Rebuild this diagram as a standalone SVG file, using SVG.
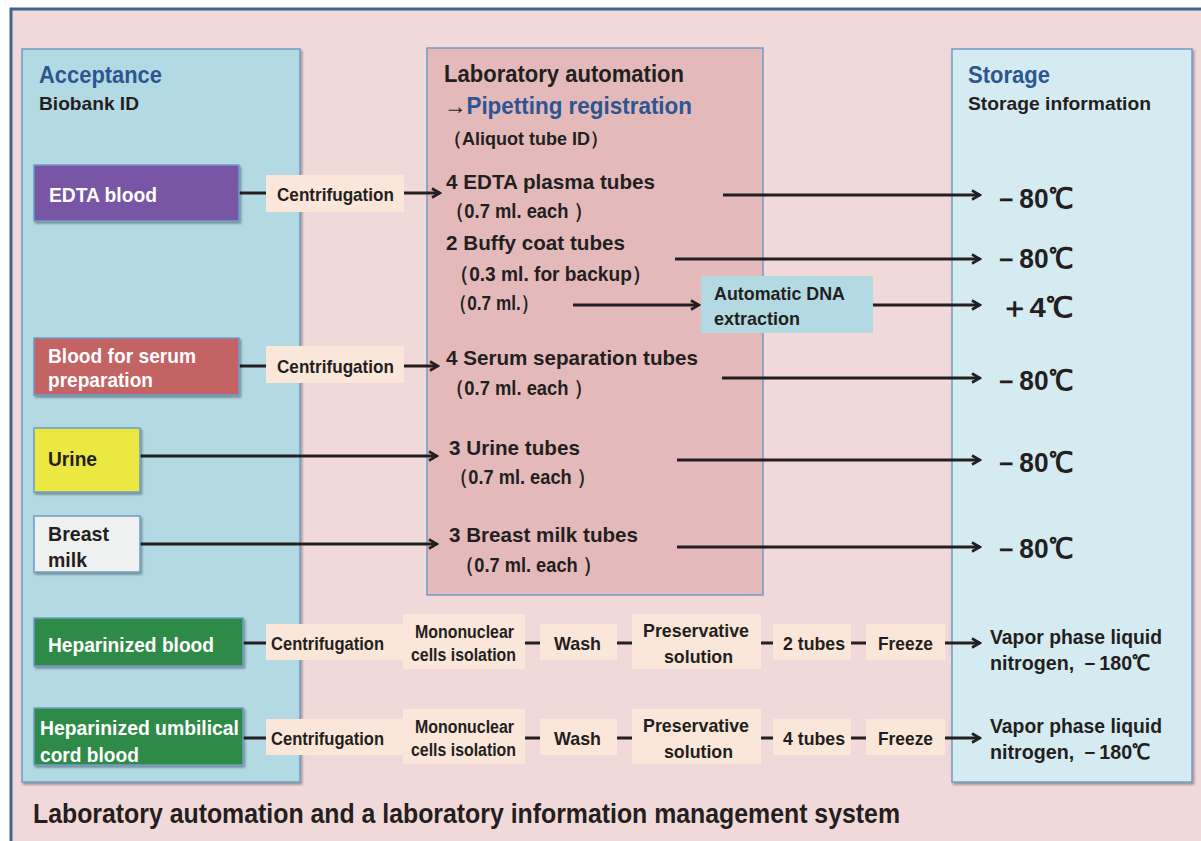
<svg xmlns="http://www.w3.org/2000/svg" width="1201" height="841" viewBox="0 0 1201 841">
<defs>
<marker id="ah" viewBox="0 0 12 12" refX="10" refY="6" markerWidth="12" markerHeight="12" markerUnits="userSpaceOnUse" orient="auto">
<path d="M2,1.5 L10,6 L2,10.5" fill="none" stroke="#231f20" stroke-width="2.6"/>
</marker>
<filter id="sh" x="-10%" y="-10%" width="120%" height="130%">
<feDropShadow dx="1.5" dy="2" stdDeviation="1.2" flood-color="#000" flood-opacity="0.35"/>
</filter>
<style>
text{font-family:"Liberation Sans",Arial,sans-serif;font-weight:bold;fill:#231f20}
.t{font-size:21px}
.s{font-size:19px}
.w{fill:#fff}
.h{font-size:23px;fill:#2c5592}
.big{font-size:28px}
.step{fill:#fbe6da}
.ln{stroke:#231f20;stroke-width:3;fill:none}
.ar{stroke:#231f20;stroke-width:3;fill:none;marker-end:url(#ah)}
</style>
</defs>
<rect width="1201" height="841" fill="#fff"/>
<rect x="11" y="9" width="1200" height="850" fill="#f1d9d9" stroke="#3c6591" stroke-width="3"/>

<g id="acceptance">
<rect x="22" y="49" width="278" height="733" fill="#b3dae3" stroke="#6d9cc8" stroke-width="1.5" filter="url(#sh)"/>
<text x="39" y="83" class="h" textLength="123" lengthAdjust="spacingAndGlyphs">Acceptance</text>
<text x="39" y="110" class="s" textLength="100" lengthAdjust="spacingAndGlyphs">Biobank ID</text>
</g>
<g id="automation">
<rect x="427" y="48" width="336" height="547" fill="#e3b9ba" stroke="#6d9cc8" stroke-width="1.5"/>
<text x="444" y="82" style="font-size:24px" textLength="240" lengthAdjust="spacingAndGlyphs">Laboratory automation</text>
<text x="444" y="114" style="font-size:24px" textLength="248" lengthAdjust="spacingAndGlyphs"><tspan>→</tspan><tspan style="fill:#2c5592">Pipetting registration</tspan></text>
<text x="444" y="145" class="s" textLength="164" lengthAdjust="spacingAndGlyphs">（Aliquot tube ID）</text>
<text x="446" y="189" class="t" textLength="209" lengthAdjust="spacingAndGlyphs">4 EDTA plasma tubes</text>
<text x="446" y="218" class="t" textLength="146" lengthAdjust="spacingAndGlyphs">（0.7 ml. each ）</text>
<text x="446" y="250" class="t" textLength="179" lengthAdjust="spacingAndGlyphs">2 Buffy coat tubes</text>
<text x="450" y="281" class="t" textLength="201" lengthAdjust="spacingAndGlyphs">（0.3 ml. for backup）</text>
<text x="450" y="310" class="t" textLength="88" lengthAdjust="spacingAndGlyphs">（0.7 ml.）</text>
<text x="446" y="365" class="t" textLength="252" lengthAdjust="spacingAndGlyphs">4 Serum separation tubes</text>
<text x="446" y="395" class="t" textLength="146" lengthAdjust="spacingAndGlyphs">（0.7 ml. each ）</text>
<text x="449" y="455" class="t" textLength="131" lengthAdjust="spacingAndGlyphs">3 Urine tubes</text>
<text x="450" y="484" class="t" textLength="145" lengthAdjust="spacingAndGlyphs">（0.7 ml. each ）</text>
<text x="449" y="542" class="t" textLength="189" lengthAdjust="spacingAndGlyphs">3 Breast milk tubes</text>
<text x="456" y="572" class="t" textLength="145" lengthAdjust="spacingAndGlyphs">（0.7 ml. each ）</text>
</g>
<g id="storage">
<rect x="952" y="49" width="240" height="733" fill="#d5ebf2" stroke="#6d9cc8" stroke-width="1.5" filter="url(#sh)"/>
<text x="968" y="83" class="h" textLength="82" lengthAdjust="spacingAndGlyphs">Storage</text>
<text x="968" y="110" class="s" textLength="183" lengthAdjust="spacingAndGlyphs">Storage information</text>
<text x="993" y="208" class="big" textLength="80" lengthAdjust="spacingAndGlyphs">－80℃</text>
<text x="993" y="268" class="big" textLength="80" lengthAdjust="spacingAndGlyphs">－80℃</text>
<text x="1000" y="317" class="big" textLength="73" lengthAdjust="spacingAndGlyphs">＋4℃</text>
<text x="993" y="390" class="big" textLength="80" lengthAdjust="spacingAndGlyphs">－80℃</text>
<text x="993" y="472" class="big" textLength="80" lengthAdjust="spacingAndGlyphs">－80℃</text>
<text x="993" y="558" class="big" textLength="80" lengthAdjust="spacingAndGlyphs">－80℃</text>
<text x="990" y="644" class="t" textLength="172" lengthAdjust="spacingAndGlyphs">Vapor phase liquid</text>
<text x="990" y="670" class="t" textLength="160" lengthAdjust="spacingAndGlyphs">nitrogen, －180℃</text>
<text x="990" y="733" class="t" textLength="172" lengthAdjust="spacingAndGlyphs">Vapor phase liquid</text>
<text x="990" y="759" class="t" textLength="160" lengthAdjust="spacingAndGlyphs">nitrogen, －180℃</text>
</g>

<g id="connectors">
<line x1="239" y1="193" x2="266" y2="193" class="ln"/>
<line x1="404" y1="193" x2="440" y2="193" class="ar"/>
<line x1="723" y1="195" x2="980" y2="195" class="ar"/>
<line x1="675" y1="259" x2="980" y2="259" class="ar"/>
<line x1="573" y1="305" x2="699" y2="305" class="ar"/>
<line x1="873" y1="305" x2="980" y2="305" class="ar"/>
<line x1="239" y1="366" x2="266" y2="366" class="ln"/>
<line x1="404" y1="366" x2="438" y2="366" class="ar"/>
<line x1="722" y1="378" x2="980" y2="378" class="ar"/>
<line x1="140" y1="456" x2="437" y2="456" class="ar"/>
<line x1="677" y1="460" x2="980" y2="460" class="ar"/>
<line x1="140" y1="544" x2="437" y2="544" class="ar"/>
<line x1="677" y1="547" x2="980" y2="547" class="ar"/>
<line x1="243" y1="643" x2="866" y2="643" class="ln"/>
<line x1="945" y1="643" x2="980" y2="643" class="ar"/>
<line x1="243" y1="738" x2="866" y2="738" class="ln"/>
<line x1="945" y1="738" x2="980" y2="738" class="ar"/>
</g>

<g id="edta">
<rect x="34" y="165" width="205" height="56" fill="#7857a5" stroke="#6d9cc8" stroke-width="1.5" filter="url(#sh)"/>
<text x="49" y="202" class="t w" textLength="108" lengthAdjust="spacingAndGlyphs">EDTA blood</text>
</g>
<g id="centrif1">
<rect x="266" y="175" width="138" height="37" class="step"/>
<text x="277" y="201" class="s" textLength="117" lengthAdjust="spacingAndGlyphs">Centrifugation</text>
</g>
<g id="dna">
<rect x="701" y="276" width="172" height="57" fill="#b3dae3"/>
<text x="714" y="300" class="s" textLength="131" lengthAdjust="spacingAndGlyphs">Automatic DNA</text>
<text x="714" y="325" class="s" textLength="86" lengthAdjust="spacingAndGlyphs">extraction</text>
</g>
<g id="serum">
<rect x="34" y="338" width="205" height="57" fill="#c46464" stroke="#6d9cc8" stroke-width="1.5" filter="url(#sh)"/>
<text x="48" y="363" class="t w" textLength="148" lengthAdjust="spacingAndGlyphs">Blood for serum</text>
<text x="48" y="387" class="t w" textLength="105" lengthAdjust="spacingAndGlyphs">preparation</text>
</g>
<g id="centrif2">
<rect x="266" y="346" width="138" height="37" class="step"/>
<text x="277" y="373" class="s" textLength="117" lengthAdjust="spacingAndGlyphs">Centrifugation</text>
</g>
<g id="urine">
<rect x="34" y="428" width="106" height="64" fill="#ece842" stroke="#6d9cc8" stroke-width="1.5" filter="url(#sh)"/>
<text x="48" y="466" class="t" textLength="49" lengthAdjust="spacingAndGlyphs">Urine</text>
</g>
<g id="milk">
<rect x="34" y="516" width="106" height="56" fill="#eff0f0" stroke="#6d9cc8" stroke-width="1.5" filter="url(#sh)"/>
<text x="48" y="541" class="t" textLength="61" lengthAdjust="spacingAndGlyphs">Breast</text>
<text x="48" y="567" class="t" textLength="39" lengthAdjust="spacingAndGlyphs">milk</text>
</g>

<g id="hep">
<rect x="34" y="618" width="209" height="48" fill="#2e8b46" stroke="#6d9cc8" stroke-width="1.5" filter="url(#sh)"/>
<text x="48" y="652" class="t w" textLength="166" lengthAdjust="spacingAndGlyphs">Heparinized blood</text>
</g>
<g id="hep-centrif"><rect x="266" y="624" width="138" height="36" class="step"/><text x="271" y="650" class="s" textLength="113" lengthAdjust="spacingAndGlyphs">Centrifugation</text></g>
<g id="hep-mono"><rect x="403" y="614" width="122" height="55" class="step"/><text x="415" y="638" style="font-size:18px" textLength="99" lengthAdjust="spacingAndGlyphs">Mononuclear</text><text x="411" y="661" style="font-size:18px" textLength="105" lengthAdjust="spacingAndGlyphs">cells isolation</text></g>
<g id="hep-wash"><rect x="540" y="624" width="77" height="36" class="step"/><text x="554" y="650" class="s" textLength="47" lengthAdjust="spacingAndGlyphs">Wash</text></g>
<g id="hep-pres"><rect x="632" y="614" width="129" height="55" class="step"/><text x="643" y="637" class="s" textLength="106" lengthAdjust="spacingAndGlyphs">Preservative</text><text x="664" y="663" class="s" textLength="69" lengthAdjust="spacingAndGlyphs">solution</text></g>
<g id="hep-tubes"><rect x="773" y="624" width="78" height="36" class="step"/><text x="783" y="650" class="s" textLength="62" lengthAdjust="spacingAndGlyphs">2 tubes</text></g>
<g id="hep-freeze"><rect x="866" y="624" width="79" height="36" class="step"/><text x="878" y="650" class="s" textLength="55" lengthAdjust="spacingAndGlyphs">Freeze</text></g>

<g id="cord">
<rect x="34" y="708" width="209" height="57" fill="#2e8b46" stroke="#6d9cc8" stroke-width="1.5" filter="url(#sh)"/>
<text x="40" y="735" class="t w" textLength="199" lengthAdjust="spacingAndGlyphs">Heparinized umbilical</text>
<text x="40" y="762" class="t w" textLength="99" lengthAdjust="spacingAndGlyphs">cord blood</text>
</g>
<g id="cord-centrif"><rect x="266" y="719" width="138" height="36" class="step"/><text x="271" y="745" class="s" textLength="113" lengthAdjust="spacingAndGlyphs">Centrifugation</text></g>
<g id="cord-mono"><rect x="403" y="709" width="122" height="55" class="step"/><text x="415" y="733" style="font-size:18px" textLength="99" lengthAdjust="spacingAndGlyphs">Mononuclear</text><text x="411" y="756" style="font-size:18px" textLength="105" lengthAdjust="spacingAndGlyphs">cells isolation</text></g>
<g id="cord-wash"><rect x="540" y="719" width="77" height="36" class="step"/><text x="554" y="745" class="s" textLength="47" lengthAdjust="spacingAndGlyphs">Wash</text></g>
<g id="cord-pres"><rect x="632" y="709" width="129" height="55" class="step"/><text x="643" y="732" class="s" textLength="106" lengthAdjust="spacingAndGlyphs">Preservative</text><text x="664" y="758" class="s" textLength="69" lengthAdjust="spacingAndGlyphs">solution</text></g>
<g id="cord-tubes"><rect x="773" y="719" width="78" height="36" class="step"/><text x="783" y="745" class="s" textLength="62" lengthAdjust="spacingAndGlyphs">4 tubes</text></g>
<g id="cord-freeze"><rect x="866" y="719" width="79" height="36" class="step"/><text x="878" y="745" class="s" textLength="55" lengthAdjust="spacingAndGlyphs">Freeze</text></g>

<text x="33" y="823" style="font-size:28px" textLength="867" lengthAdjust="spacingAndGlyphs">Laboratory automation and a laboratory information management system</text>
</svg>
